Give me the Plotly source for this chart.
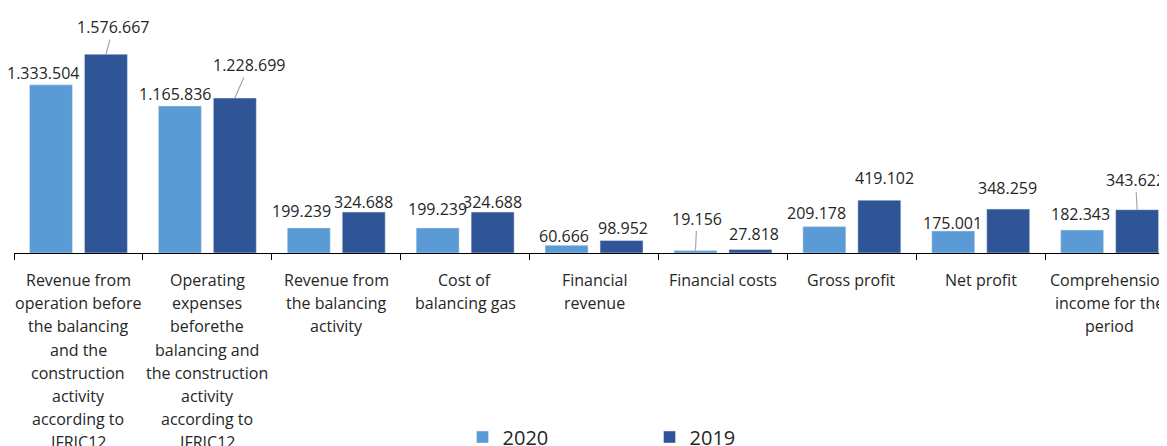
import plotly.graph_objects as go

# ---- data ----
categories = [
    "Revenue from operation before the balancing and the construction activity according to IFRIC12",
    "Operating expenses beforethe balancing and the construction activity according to IFRIC12",
    "Revenue from the balancing activity",
    "Cost of balancing gas",
    "Financial revenue",
    "Financial costs",
    "Gross profit",
    "Net profit",
    "Comprehension income for the period",
]
category_lines = [
    ["Revenue from", "operation before", "the balancing", "and the", "construction", "activity", "according to", "IFRIC12"],
    ["Operating", "expenses", "beforethe", "balancing and", "the construction", "activity", "according to", "IFRIC12"],
    ["Revenue from", "the balancing", "activity"],
    ["Cost of", "balancing gas"],
    ["Financial", "revenue"],
    ["Financial costs"],
    ["Gross profit"],
    ["Net profit"],
    ["Comprehension", "income for the", "period"],
]
values_2020 = [1333504, 1165836, 199239, 199239, 60666, 19156, 209178, 175001, 182343]
values_2019 = [1576667, 1228699, 324688, 324688, 98952, 27818, 419102, 348259, 343622]
labels_2020 = ["1.333.504", "1.165.836", "199.239", "199.239", "60.666", "19.156", "209.178", "175.001", "182.343"]
labels_2019 = ["1.576.667", "1.228.699", "324.688", "324.688", "98.952", "27.818", "419.102", "348.259", "343.622"]

# ---- styles / layout ----
C2020 = "#5b9bd5"
C2019 = "#2f5597"
FONT = "Open Sans"
TXT = "#262626"
BARGAP = 0.147
BARGROUPGAP = 0.218

# label placement (pixel offsets from bar top centre; dy down-positive), leader flag
off_2020 = {0: (-7.5, -12, False), 1: (-5, -12, False), 2: (-7, -17, False), 3: (0, -19, False),
            4: (-2.5, -9, False), 5: (1.5, -32, True), 6: (-7.5, -13.6, False), 7: (-1, -8, False),
            8: (-1.5, -16, False)}
off_2019 = {0: (7.5, -27, True), 1: (14.5, -33, True), 2: (0, -10, False), 3: (0, -10, False),
            4: (1, -13, False), 5: (3.5, -15.5, False), 6: (5.5, -22, False), 7: (-1, -21, False),
            8: (-1.5, -30, True)}

fig = go.Figure()
fig.add_trace(go.Bar(name="2020", x=categories, y=values_2020, marker_color=C2020))
fig.add_trace(go.Bar(name="2019", x=categories, y=values_2019, marker_color=C2019))

bar_off = (1 - BARGAP) / 4.0
annotations = []
for series, vals, labs, offs, sgn in [("2020", values_2020, labels_2020, off_2020, -1),
                                      ("2019", values_2019, labels_2019, off_2019, 1)]:
    for i, (v, t) in enumerate(zip(vals, labs)):
        dx, dy, leader = offs[i]
        xpos = i + sgn * bar_off
        if leader:
            annotations.append(dict(x=xpos, y=v, xref="x", yref="y", text=t, showarrow=True,
                                    ax=dx, ay=dy, axref="pixel", ayref="pixel",
                                    arrowhead=0, arrowwidth=1.2, arrowcolor="#a6a6a6",
                                    font=dict(family=FONT, size=16, color=TXT)))
        else:
            annotations.append(dict(x=xpos, y=v, xref="x", yref="y", text=t, showarrow=False,
                                    xanchor="center", yanchor="middle", xshift=dx, yshift=-dy,
                                    font=dict(family=FONT, size=16, color=TXT)))

LINE0 = 27
LINE_STEP = 23.2
for i, lines in enumerate(category_lines):
    for j, ln in enumerate(lines):
        annotations.append(dict(x=i, y=0, xref="x", yref="paper", text=ln, showarrow=False,
                                xanchor="center", yanchor="middle",
                                yshift=-(LINE0 + j * LINE_STEP),
                                font=dict(family=FONT, size=16, color=TXT)))

fig.update_layout(
    width=1159, height=438,
    margin=dict(l=6, r=0, t=0, b=193, autoexpand=False),
    paper_bgcolor="white", plot_bgcolor="white",
    barmode="group", bargap=BARGAP, bargroupgap=BARGROUPGAP,
    font=dict(family=FONT, size=16, color=TXT),
    xaxis=dict(type="category", range=[-0.5, 8.445], showticklabels=False,
               tickson="boundaries", ticks="outside", ticklen=6, tickwidth=1.3, tickcolor="black",
               showline=True, linecolor="black", linewidth=1.3, showgrid=False, zeroline=False),
    yaxis=dict(range=[0, 1942850], visible=False, showgrid=False, zeroline=False),
    showlegend=True,
    legend=dict(orientation="h", x=0.389, xanchor="left", y=-0.751, yanchor="middle",
                font=dict(family=FONT, size=20, color=TXT), entrywidth=142, entrywidthmode="pixels",
                itemwidth=30, bgcolor="rgba(0,0,0,0)"),
    annotations=annotations,
)

fig.write_html("out.html")
